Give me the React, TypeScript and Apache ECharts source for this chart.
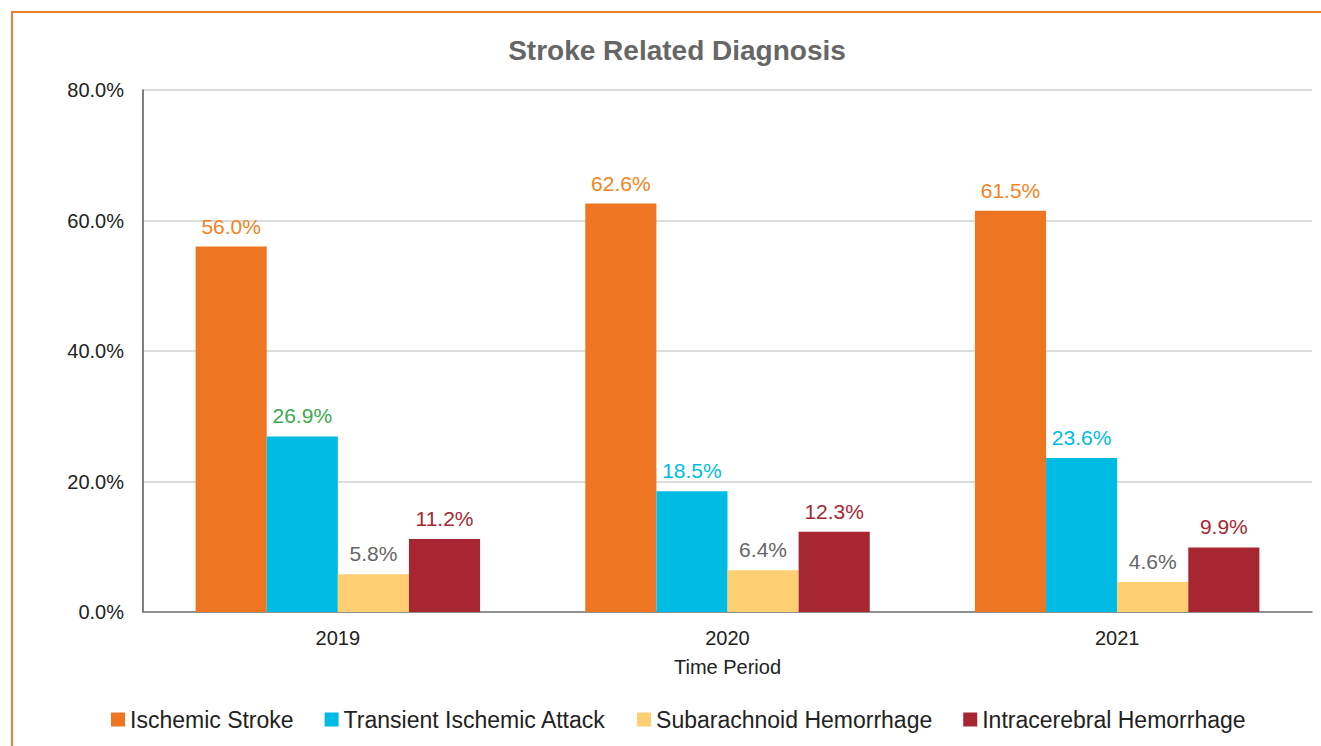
import React, { useEffect, useRef } from "react";
import * as echarts from "echarts";

const categories = ["2019", "2020", "2021"];
const ischemicStroke = [56.0, 62.6, 61.5];
const transientIschemic = [26.9, 18.5, 23.6];
const subarachnoid = [5.8, 6.4, 4.6];
const intracerebral = [11.2, 12.3, 9.9];
const yTicks = [0, 20, 40, 60, 80];

const NARROW = '"Liberation Sans Narrow", "Arial Narrow", "Liberation Sans", Arial, sans-serif';
const SANS = '"Liberation Sans", Arial, sans-serif';

export default function App() {
  const ref = useRef<HTMLDivElement>(null);
  useEffect(() => {
    if (!ref.current) return;
    const chart = echarts.init(ref.current, undefined, { renderer: "svg" });
    const lbl = (color: string) => ({
      show: true,
      position: "top" as const,
      distance: 10,
      color,
      fontSize: 21,
      fontFamily: SANS,
      formatter: (p: any) => Number(p.value).toFixed(1) + "%",
    });
    const mk = (name: string, data: number[], color: string, labelColor: string) => ({
      name,
      type: "bar" as const,
      data,
      barGap: "0%",
      barCategoryGap: "27%",
      itemStyle: { color },
      label: lbl(labelColor),
    });
    const tia = mk("Transient Ischemic Attack", transientIschemic, "#00BCE4", "#00BCE4");
    (tia as any).data = transientIschemic.map((v, i) =>
      i === 0 ? { value: v, label: { color: "#3AAA50" } } : v
    );
    chart.setOption({
      animation: false,
      title: {
        text: "Stroke Related Diagnosis",
        left: 672,
        textAlign: "center",
        top: 31,
        textStyle: { fontFamily: NARROW, fontSize: 28, fontWeight: "bold", color: "#666666" },
      },
      grid: { left: 143, right: 9, top: 90, bottom: 134 },
      legend: {
        bottom: 10,
        left: 106,
        itemWidth: 14,
        itemHeight: 14,
        itemGap: 31,
        icon: "rect",
        textStyle: { fontFamily: NARROW, fontSize: 23, color: "#222222" },
      },
      xAxis: {
        type: "category",
        data: categories,
        name: "Time Period",
        nameLocation: "middle",
        nameGap: 45,
        nameTextStyle: { fontFamily: NARROW, fontSize: 20, color: "#222222" },
        axisLine: { lineStyle: { color: "#777777", width: 1.5 } },
        axisTick: { show: false },
        axisLabel: { fontFamily: SANS, fontSize: 20, color: "#222222", margin: 16 },
      },
      yAxis: {
        type: "value",
        min: yTicks[0],
        max: yTicks[yTicks.length - 1],
        interval: 20,
        axisLine: { show: true, lineStyle: { color: "#555555", width: 1.5 } },
        axisTick: { show: false },
        splitLine: { lineStyle: { color: "#D0D0D0", width: 1.5 } },
        axisLabel: {
          fontFamily: SANS,
          fontSize: 20,
          color: "#222222",
          margin: 19,
          formatter: (v: number) => v.toFixed(1) + "%",
        },
      },
      series: [
        mk("Ischemic Stroke", ischemicStroke, "#EE7623", "#F58220"),
        tia,
        mk("Subarachnoid Hemorrhage", subarachnoid, "#FECE73", "#666666"),
        mk("Intracerebral Hemorrhage", intracerebral, "#A82631", "#A82631"),
      ],
    });
    return () => chart.dispose();
  }, []);
  return (
    <div style={{ position: "absolute", left: 0, top: 0, width: 1321, height: 746, background: "#fff", overflow: "hidden" }}>
      <div
        style={{
          position: "absolute",
          left: 11,
          top: 11,
          width: 1321,
          height: 746,
          borderLeft: "2px solid #EE7F2D",
          borderTop: "2px solid #EE7F2D",
          boxSizing: "border-box",
        }}
      />
      <div ref={ref} style={{ position: "absolute", left: 0, top: 0, width: 1321, height: 746 }} />
    </div>
  );
}
